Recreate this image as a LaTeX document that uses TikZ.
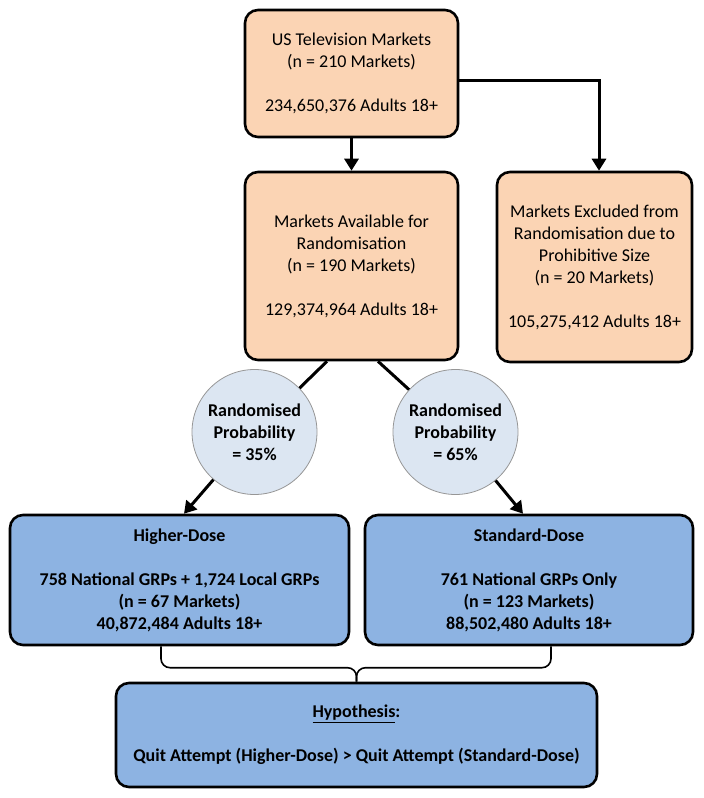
\documentclass[tikz,border=0pt]{standalone}
\usepackage{fontspec}
\setmainfont{Carlito}
\usepackage{tikz}
\usetikzlibrary{arrows.meta}
\usetikzlibrary{calc}
\usetikzlibrary{positioning}
\definecolor{peach}{RGB}{251,212,180}
\definecolor{dose}{RGB}{141,179,226}
\definecolor{prob}{RGB}{220,230,242}
\definecolor{rim}{RGB}{150,150,150}

\tikzset{
  market/.style={draw, line width=2.6pt, rounded corners=13pt, fill=peach,
    align=center, inner sep=0pt, font=\fontsize{18}{22}\selectfont},
  dosebox/.style={market, fill=dose, font=\fontsize{18}{22}\selectfont\bfseries},
  chance/.style={circle, draw=rim, line width=0.8pt, fill=prob, minimum size=125pt,
    inner sep=0pt, align=center, font=\fontsize{18}{22}\selectfont\bfseries},
  link/.style={line width=3pt},
  flow/.style={link, -{Triangle[length=12pt,width=14pt]}},
  brace/.style={line width=1.6pt, rounded corners=9pt},
}

\begin{document}
\begin{tikzpicture}[x=1pt, y=-1pt]
  \useasboundingbox (0, 0) rectangle (704, 798);

  \node[market, minimum width=213pt, minimum height=127pt] (tv)    at (351.5, 73.5)
    {US Television Markets\\(n = 210 Markets)\\[22pt]234,650,376 Adults 18+};
  \node[market, minimum width=213pt, minimum height=188pt] (avail) at (351.5, 266)
    {Markets Available for\\Randomisation\\(n = 190 Markets)\\[22pt]129,374,964 Adults 18+};
  \node[market, minimum width=195pt, minimum height=190pt] (excl)  at (594.5, 267)
    {Markets Excluded from\\Randomisation due to\\Prohibitive Size\\(n = 20 Markets)\\[22pt]105,275,412 Adults 18+};

  \node[chance] (p35) at (254.5, 432) {Randomised\\Probability\\= 35\%};
  \node[chance] (p65) at (455.5, 432) {Randomised\\Probability\\= 65\%};

  \node[dosebox, minimum width=339pt, minimum height=130pt] (higher)   at (179.5, 580)
    {Higher-Dose\\[22pt]758 National GRPs + 1,724 Local GRPs\\(n = 67 Markets)\\40,872,484 Adults 18+};
  \node[dosebox, minimum width=328pt, minimum height=130pt] (standard) at (529, 580)
    {Standard-Dose\\[22pt]761 National GRPs Only\\(n = 123 Markets)\\88,502,480 Adults 18+};
  \node[dosebox, minimum width=481pt, minimum height=104pt] (hyp)      at (356.5, 735)
    {\underline{Hypothesis}:\\[22pt]Quit Attempt (Higher-Dose) > Quit Attempt (Standard-Dose)};

  \draw[flow] (tv) -- (avail);
  \draw[flow] ($(tv.east)+(0, 6.5)$) -| ($(excl.north)+(4.5, 0)$);

  \draw[link] ($(avail.south)+(-24.5, 0)$) -- (p35);
  \draw[link] ($(avail.south)+(26.5, 0)$)  -- (p65);
  \draw[flow] (p35) -- ($(higher.north)+(4.5, 0)$);
  \draw[flow] (p65) -- ($(standard.north)+(-6, 0)$);

  \coordinate (join) at ($(hyp.north)+(0, -14)$);
  \draw[brace] ($(higher.south)+(-18.5, 0)$) |- (join) -- (hyp.north);
  \draw[brace] ($(standard.south)+(22, 0)$)  |- (join) -- (hyp.north);
\end{tikzpicture}
\end{document}
